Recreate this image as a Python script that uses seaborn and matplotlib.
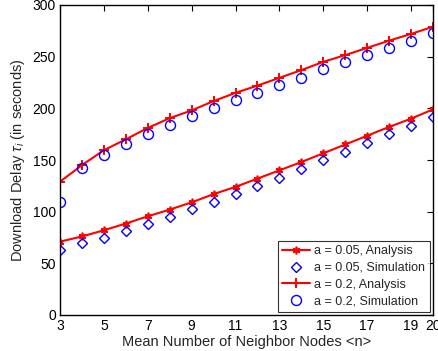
import matplotlib
matplotlib.use("Agg")
import matplotlib.pyplot as plt
import seaborn as sns
import numpy as np
import pandas as pd

n_values = [3, 4, 5, 6, 7, 8, 9, 10, 11, 12, 13, 14, 15, 16, 17, 18, 19, 20]
a005_analysis = [71, 76, 82, 88.5, 95.5, 102, 109, 117, 124, 132, 140, 148, 156.5, 165, 173.5, 182, 190, 199]
a005_simulation = [63, 69.5, 75, 81, 88.5, 95, 102.5, 109.5, 117, 124.5, 133, 141, 150, 158, 166, 175.5, 183, 192]
a02_analysis = [129, 145, 159.5, 170, 181, 190.5, 198, 207, 215, 222, 229.5, 237, 245, 251.5, 258.5, 265.5, 272, 279]
a02_simulation = [109, 142.5, 155, 165.5, 175, 183.5, 193, 200.5, 208, 215, 223, 229.5, 238, 244.5, 251.5, 258.5, 265.5, 272.5]
series_labels = ["a = 0.05, Analysis", "a = 0.05, Simulation", "a = 0.2, Analysis", "a = 0.2, Simulation"]
x_ticks = [3, 5, 7, 9, 11, 13, 15, 17, 19, 20]
y_ticks = [0, 50, 100, 150, 200, 250, 300]

sns.set_theme(style="white")
plt.rcParams['font.family'] = ['Liberation Sans', 'DejaVu Sans']
plt.rcParams['mathtext.fontset'] = 'custom'
plt.rcParams['mathtext.rm'] = 'Liberation Sans'
plt.rcParams['mathtext.it'] = 'Liberation Sans:italic'

fig = plt.figure(figsize=(4.38, 3.51), dpi=100)
ax = fig.add_axes([60/438, 1-315/351, (433-60)/438, (315-5)/351])

asterisk = (6, 2, 0)
sns.lineplot(x=n_values, y=a005_analysis, ax=ax, color=(1, 0, 0), lw=1.5,
             marker=asterisk, markersize=5.5, markeredgewidth=1.2, markeredgecolor=(1, 0, 0),
             label=series_labels[0])
sns.lineplot(x=n_values, y=a005_simulation, ax=ax, color=(0, 0, 1), lw=0, linestyle='',
             marker='D', markersize=5.5, markerfacecolor='none', markeredgecolor=(0, 0, 1),
             markeredgewidth=1.0, label=series_labels[1])
sns.lineplot(x=n_values, y=a02_analysis, ax=ax, color=(1, 0, 0), lw=1.5,
             marker='+', markersize=6.5, markeredgewidth=1.4, markeredgecolor=(1, 0, 0),
             label=series_labels[2])
sns.lineplot(x=n_values, y=a02_simulation, ax=ax, color=(0, 0, 1), lw=0, linestyle='',
             marker='o', markersize=7.2, markerfacecolor='none', markeredgecolor=(0, 0, 1),
             markeredgewidth=1.0, label=series_labels[3])

ax.set_xlim(3, 20)
ax.set_ylim(0, 300)
ax.set_xticks(x_ticks)
ax.set_yticks(y_ticks)
ax.tick_params(direction='in', top=True, right=True, length=4, width=0.8,
               labelsize=10, colors='black', pad=3)
for s in ax.spines.values():
    s.set_color('black')
    s.set_linewidth(1.0)
ax.set_xlabel("Mean Number of Neighbor Nodes <n>", fontsize=10.5, labelpad=1)
ax.set_ylabel(r"Download Delay $\tau_i$ (in seconds)", fontsize=10.5, labelpad=4)

leg = ax.legend(loc='lower right', fontsize=9, frameon=True, fancybox=False,
                edgecolor='black', borderaxespad=0.25, handlelength=2.2,
                labelspacing=0.38, borderpad=0.35, handletextpad=0.4)
leg.get_frame().set_linewidth(0.8)

fig.savefig("out.png", dpi=100)
